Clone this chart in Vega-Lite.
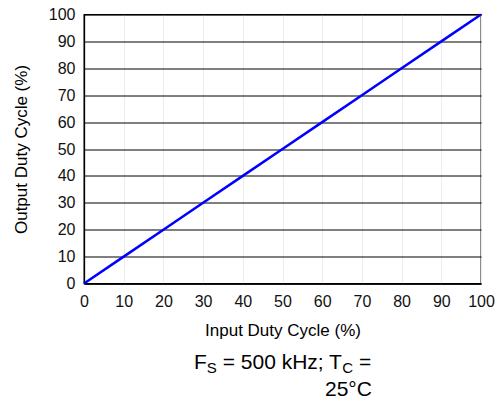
{
  "$schema": "https://vega.github.io/schema/vega-lite/v6.json",
  "width": 397,
  "height": 269,
  "autosize": {"type": "none"},
  "padding": {"left": 84, "top": 14.5, "right": 20, "bottom": 124.5},
  "background": "white",
  "config": {
    "view": {"stroke": "black", "strokeWidth": 1.3},
    "font": "Liberation Sans"
  },
  "resolve": {
    "scale": {"x": "independent", "y": "independent"},
    "axis": {"x": "independent", "y": "independent"}
  },
  "layer": [
    {
      "data": {"values": [
        {"input": 0, "output": 0},
        {"input": 10, "output": 10},
        {"input": 20, "output": 20},
        {"input": 30, "output": 30},
        {"input": 40, "output": 40},
        {"input": 50, "output": 50},
        {"input": 60, "output": 60},
        {"input": 70, "output": 70},
        {"input": 80, "output": 80},
        {"input": 90, "output": 90},
        {"input": 100, "output": 100}
      ]},
      "mark": {"type": "line", "color": "#0000ff", "strokeWidth": 2.5},
      "encoding": {
        "x": {
          "field": "input", "type": "quantitative",
          "scale": {"domain": [0, 100], "nice": false},
          "axis": {
            "title": "Input Duty Cycle (%)",
            "values": [0, 10, 20, 30, 40, 50, 60, 70, 80, 90, 100],
            "grid": true, "gridColor": "#ececec", "gridWidth": 1,
            "ticks": false, "domainColor": "black", "domainWidth": 1.3,
            "labelFontSize": 16, "labelColor": "#111", "labelPadding": 10,
            "labelFlush": false, "labelOverlap": false,
            "titleFontSize": 17, "titleFontWeight": "normal", "titleColor": "#000",
            "titlePadding": 12.5
          }
        },
        "y": {
          "field": "output", "type": "quantitative",
          "scale": {"domain": [0, 100], "nice": false},
          "axis": {
            "title": "Output Duty Cycle (%)",
            "values": [0, 10, 20, 30, 40, 50, 60, 70, 80, 90, 100],
            "grid": true, "gridColor": "#000", "gridWidth": 1,
            "ticks": false, "domainColor": "black", "domainWidth": 1.3,
            "labelFontSize": 16, "labelColor": "#111", "labelPadding": 9,
            "labelFlush": false, "labelOverlap": false,
            "titleFontSize": 17, "titleFontWeight": "normal", "titleColor": "#000",
            "titlePadding": 18
          }
        }
      }
    },
    {
      "data": {"values": [{}]},
      "mark": {"type": "text", "text": "F", "fontSize": 21, "align": "left", "baseline": "alphabetic", "clip": false, "color": "#000"},
      "encoding": {
        "x": {"datum": 27.71, "type": "quantitative", "scale": {"domain": [0, 100], "nice": false}, "axis": null},
        "y": {"datum": -31.78, "type": "quantitative", "scale": {"domain": [0, 100], "nice": false}, "axis": null}
      }
    },
    {
      "data": {"values": [{}]},
      "mark": {"type": "text", "text": "S", "fontSize": 15, "align": "left", "baseline": "alphabetic", "clip": false, "color": "#000"},
      "encoding": {
        "x": {"datum": 30.93, "type": "quantitative", "scale": {"domain": [0, 100], "nice": false}, "axis": null},
        "y": {"datum": -33.27, "type": "quantitative", "scale": {"domain": [0, 100], "nice": false}, "axis": null}
      }
    },
    {
      "data": {"values": [{}]},
      "mark": {"type": "text", "text": "= 500 kHz; T", "fontSize": 21, "align": "left", "baseline": "alphabetic", "clip": false, "color": "#000"},
      "encoding": {
        "x": {"datum": 34.93, "type": "quantitative", "scale": {"domain": [0, 100], "nice": false}, "axis": null},
        "y": {"datum": -31.78, "type": "quantitative", "scale": {"domain": [0, 100], "nice": false}, "axis": null}
      }
    },
    {
      "data": {"values": [{}]},
      "mark": {"type": "text", "text": "C", "fontSize": 15, "align": "left", "baseline": "alphabetic", "clip": false, "color": "#000"},
      "encoding": {
        "x": {"datum": 65.06, "type": "quantitative", "scale": {"domain": [0, 100], "nice": false}, "axis": null},
        "y": {"datum": -33.27, "type": "quantitative", "scale": {"domain": [0, 100], "nice": false}, "axis": null}
      }
    },
    {
      "data": {"values": [{}]},
      "mark": {"type": "text", "text": "=", "fontSize": 21, "align": "left", "baseline": "alphabetic", "clip": false, "color": "#000"},
      "encoding": {
        "x": {"datum": 69.24, "type": "quantitative", "scale": {"domain": [0, 100], "nice": false}, "axis": null},
        "y": {"datum": -31.78, "type": "quantitative", "scale": {"domain": [0, 100], "nice": false}, "axis": null}
      }
    },
    {
      "data": {"values": [{}]},
      "mark": {"type": "text", "text": "25°C", "fontSize": 21, "align": "left", "baseline": "alphabetic", "clip": false, "color": "#000"},
      "encoding": {
        "x": {"datum": 60.7, "type": "quantitative", "scale": {"domain": [0, 100], "nice": false}, "axis": null},
        "y": {"datum": -41.8, "type": "quantitative", "scale": {"domain": [0, 100], "nice": false}, "axis": null}
      }
    }
  ]
}
